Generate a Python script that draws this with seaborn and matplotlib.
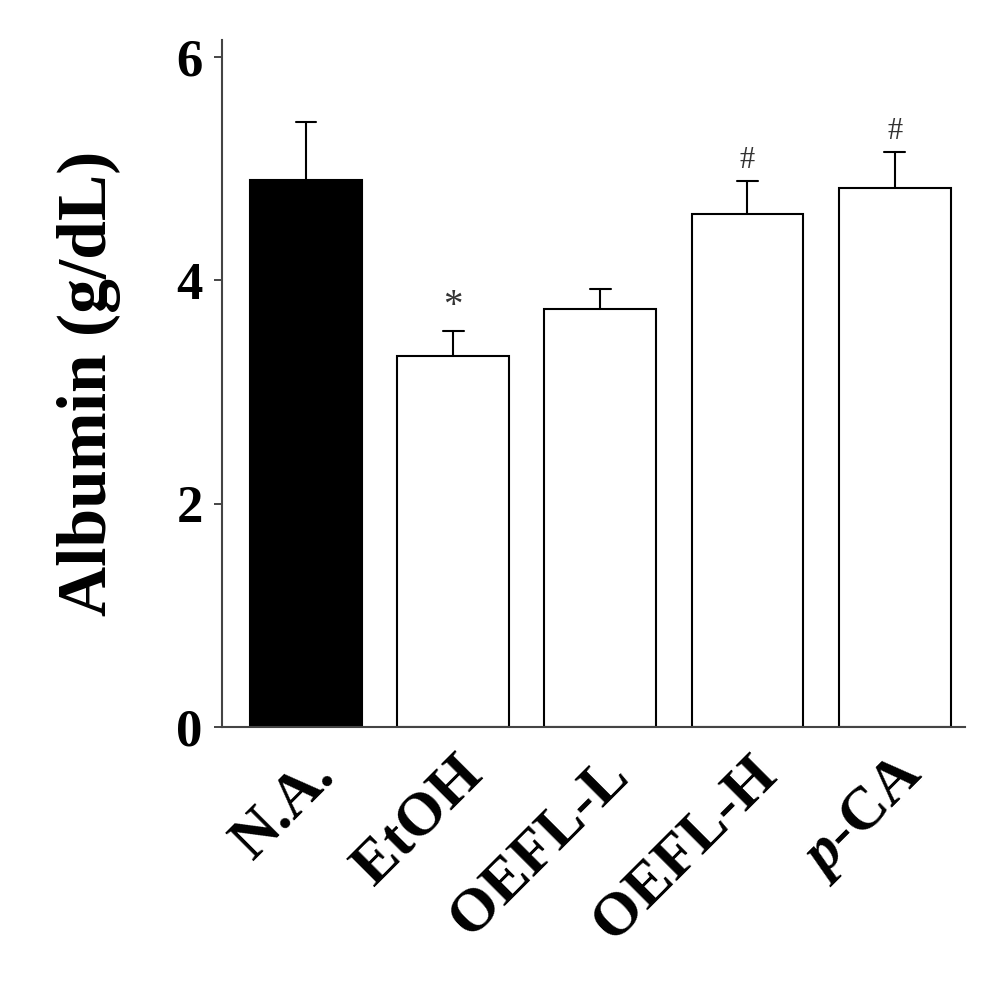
import matplotlib
matplotlib.use("Agg")
import matplotlib.pyplot as plt
import seaborn as sns
import pandas as pd

groups = ["N.A.", "EtOH", "OEFL-L", "OEFL-H", "$\\mathit{p}$-CA"]
means = [4.90, 3.32, 3.74, 4.59, 4.83]
errs = [0.52, 0.23, 0.18, 0.30, 0.32]
marks = ["", "*", "", "#", "#"]
colors = ["black", "white", "white", "white", "white"]

sns.set_style("ticks")
plt.rcParams['font.family'] = ['Liberation Serif', 'DejaVu Serif']
plt.rcParams['mathtext.fontset'] = 'custom'
plt.rcParams['mathtext.it'] = 'Liberation Serif:style=italic:weight=bold'
plt.rcParams['mathtext.rm'] = 'Liberation Serif:weight=bold'

fig = plt.figure(figsize=(9.92, 10.08), dpi=100)
ax = fig.add_axes([0.224, 0.279, 0.749, 0.681])
df = pd.DataFrame({"g": groups, "v": means})
sns.barplot(data=df, x="g", y="v", palette=colors, hue="g", legend=False,
            edgecolor="black", linewidth=1.5, width=0.76, ax=ax)
for i, (m, e) in enumerate(zip(means, errs)):
    ax.plot([i, i], [m, m + e], color="black", lw=1.5)
    ax.plot([i - 0.07, i + 0.07], [m + e, m + e], color="black", lw=1.5)
    if marks[i]:
        ax.text(i, m + e + 0.05, marks[i], ha="center", va="bottom",
                fontsize=28 if marks[i] == "*" else 22, color="#333333")
ax.set_ylim(0, 6.15)
ax.set_xlim(-0.57, 4.48)
ax.set_yticks([0, 2, 4, 6])
ax.set_yticklabels(["0", "2", "4", "6"], fontsize=38, fontweight="bold", color="black")
ax.set_xticks(range(5))
ax.set_xticklabels(groups, rotation=45, ha="right", rotation_mode="anchor",
                   fontsize=44, fontweight="bold", color="black")
ax.tick_params(axis="x", length=0, pad=14)
ax.tick_params(axis="y", length=6, width=1.2, pad=8)
ax.set_xlabel("")
ax.set_ylabel("Albumin (g/dL)", fontsize=50, fontweight="bold", labelpad=40, color="black")
for s in ["top", "right"]:
    ax.spines[s].set_visible(False)
for s in ["left", "bottom"]:
    ax.spines[s].set_linewidth(1.5)
    ax.spines[s].set_color("#444444")
fig.savefig("out.png", dpi=100, facecolor="white")
